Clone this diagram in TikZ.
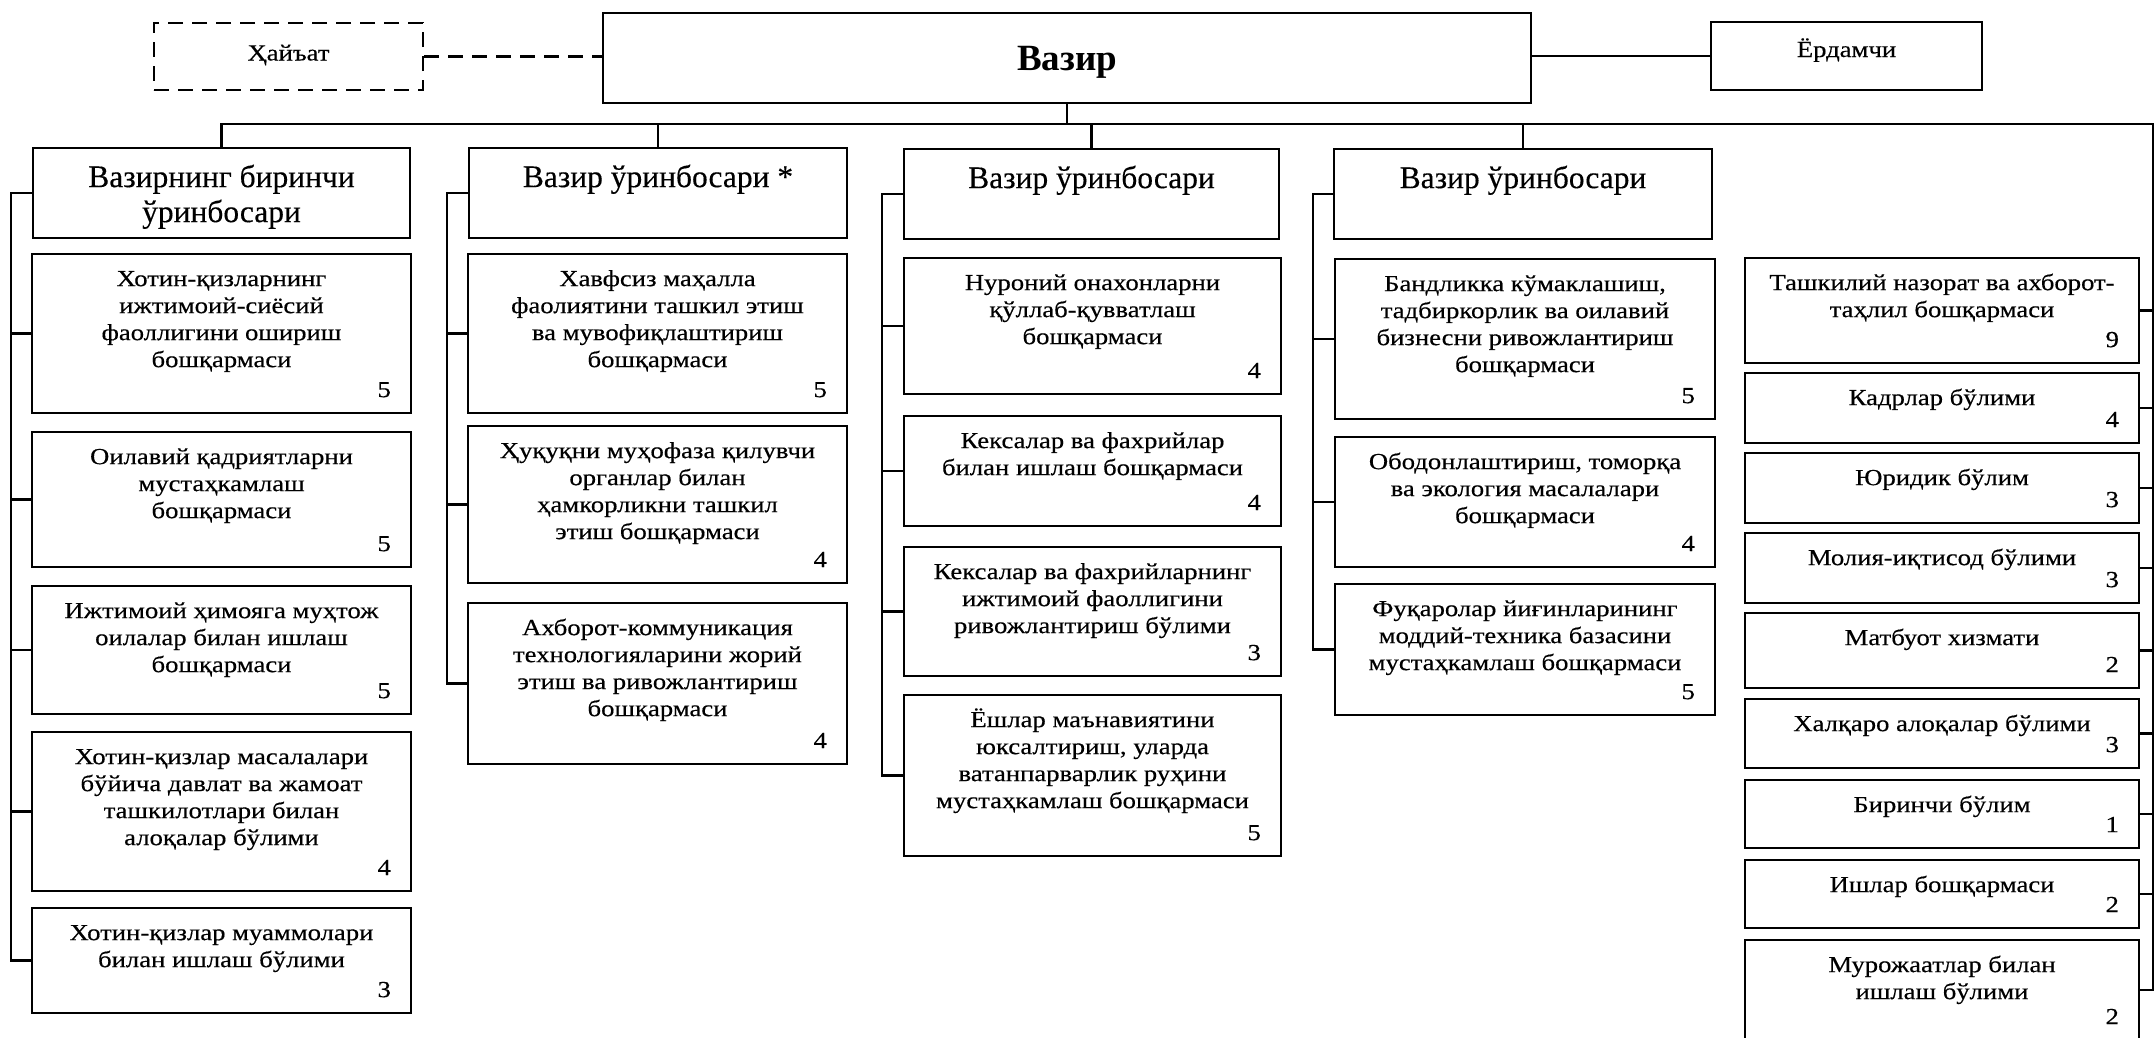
\documentclass[tikz,border=0pt]{standalone}
\usepackage{fontspec}
\setmainfont{Liberation Serif}
\newfontfamily\bodyfont[FakeStretch=1.16, FakeBold=0.4]{Liberation Serif}
\newfontfamily\depfont[FakeBold=0.3]{Liberation Serif}
\tikzset{
  ubx/.style={draw, line width=2.2pt, inner sep=0pt, fill=white},
  utxt/.style={inner sep=0pt, align=center, font=\bodyfont\fontsize{23}{27}\selectfont},
  unum/.style={inner sep=0pt, font=\bodyfont\fontsize{23}{27}\selectfont},
  dtxt/.style={inner sep=0pt, align=center, font=\depfont\fontsize{31.5}{35}\selectfont},
  link/.style={line width=2.2pt},
  dlink/.style={line width=2.2pt, dash pattern=on 15pt off 9pt},
}
\newcommand\ubox[7]{%
  \node[ubx, minimum width={(#4-#2)*1pt}, minimum height={(#5-#3)*1pt}] (#1) at ({(#2+#4)/2},{(#3+#5)/2}) {};
  \node[utxt, anchor=north] (#1t) at ([yshift=-12pt]#1.north) {\rule{0pt}{21pt}#6};
  \node[unum, anchor=base east] (#1n) at ([xshift=-21pt, yshift=17pt]#1.south east) {#7};
}
\newcommand\dbox[6]{%
  \node[ubx, minimum width={(#4-#2)*1pt}, minimum height={(#5-#3)*1pt}] (#1) at ({(#2+#4)/2},{(#3+#5)/2}) {};
  \node[dtxt, anchor=north] (#1t) at ([yshift=-12pt]#1.north) {\rule{0pt}{28pt}#6};
}
\begin{document}
\begin{tikzpicture}[x=1pt, y=-1pt]
\useasboundingbox (0,0) rectangle (2156,1037);

% top row
\node[ubx, dash pattern=on 15pt off 9pt, minimum width=269pt, minimum height=67pt] (hay) at (288.5,56.5) {};
\node[utxt, anchor=base] (hayt) at ([yshift=-4pt]hay.center) {Ҳайъат};
\node[ubx, minimum width=928pt, minimum height=90pt] (vazir) at (1067,58) {};
\node[inner sep=0pt, font=\bfseries\fontsize{37}{40}\selectfont, anchor=base] (vazirt) at ([yshift=-12pt]vazir.center) {Вазир};
\node[ubx, minimum width=271pt, minimum height=68pt] (yor) at (1846.5,56) {};
\node[utxt, anchor=base] (yort) at ([yshift=-1pt]yor.center) {Ёрдамчи};

% deputies
\dbox{d1}{33}{148}{410}{238}{Вазирнинг биринчи\\ўринбосари}
\dbox{d2}{469}{148}{847}{238}{Вазир ўринбосари *}
\dbox{d3}{904}{149}{1279}{239}{Вазир ўринбосари}
\dbox{d4}{1334}{149}{1712}{239}{Вазир ўринбосари}

% column 1
\ubox{c11}{32}{254}{411}{413}{Хотин-қизларнинг\\ижтимоий-сиёсий\\фаоллигини ошириш\\бошқармаси}{5}
\ubox{c12}{32}{432}{411}{567}{Оилавий қадриятларни\\мустаҳкамлаш\\бошқармаси}{5}
\ubox{c13}{32}{586}{411}{714}{Ижтимоий ҳимояга муҳтож\\оилалар билан ишлаш\\бошқармаси}{5}
\ubox{c14}{32}{732}{411}{891}{Хотин-қизлар масалалари\\бўйича давлат ва жамоат\\ташкилотлари билан\\алоқалар бўлими}{4}
\ubox{c15}{32}{908}{411}{1013}{Хотин-қизлар муаммолари\\билан ишлаш бўлими}{3}

% column 2
\ubox{c21}{468}{254}{847}{413}{Хавфсиз маҳалла\\фаолиятини ташкил этиш\\ва мувофиқлаштириш\\бошқармаси}{5}
\ubox{c22}{468}{426}{847}{583}{Ҳуқуқни муҳофаза қилувчи\\органлар билан\\ҳамкорликни ташкил\\этиш бошқармаси}{4}
\ubox{c23}{468}{603}{847}{764}{Ахборот-коммуникация\\технологияларини жорий\\этиш ва ривожлантириш\\бошқармаси}{4}

% column 3
\ubox{c31}{904}{258}{1281}{394}{Нуроний онахонларни\\қўллаб-қувватлаш\\бошқармаси}{4}
\ubox{c32}{904}{416}{1281}{526}{Кексалар ва фахрийлар\\билан ишлаш бошқармаси}{4}
\ubox{c33}{904}{547}{1281}{676}{Кексалар ва фахрийларнинг\\ижтимоий фаоллигини\\ривожлантириш бўлими}{3}
\ubox{c34}{904}{695}{1281}{856}{Ёшлар маънавиятини\\юксалтириш, уларда\\ватанпарварлик руҳини\\мустаҳкамлаш бошқармаси}{5}

% column 4
\ubox{c41}{1335}{259}{1715}{419}{Бандликка кўмаклашиш,\\тадбиркорлик ва оилавий\\бизнесни ривожлантириш\\бошқармаси}{5}
\ubox{c42}{1335}{437}{1715}{567}{Ободонлаштириш, томорқа\\ва экология масалалари\\бошқармаси}{4}
\ubox{c43}{1335}{584}{1715}{715}{Фуқаролар йиғинларининг\\моддий-техника базасини\\мустаҳкамлаш бошқармаси}{5}

% right column
\ubox{r1}{1745}{258}{2139}{363}{Ташкилий назорат ва ахборот-\\таҳлил бошқармаси}{9}
\ubox{r2}{1745}{373}{2139}{443}{Кадрлар бўлими}{4}
\ubox{r3}{1745}{453}{2139}{523}{Юридик бўлим}{3}
\ubox{r4}{1745}{533}{2139}{603}{Молия-иқтисод бўлими}{3}
\ubox{r5}{1745}{613}{2139}{688}{Матбуот хизмати}{2}
\ubox{r6}{1745}{699}{2139}{768}{Халқаро алоқалар бўлими}{3}
\ubox{r7}{1745}{780}{2139}{848}{Биринчи бўлим}{1}
\ubox{r8}{1745}{860}{2139}{928}{Ишлар бошқармаси}{2}
\ubox{r9}{1745}{940}{2139}{1040}{Мурожаатлар билан\\ишлаш бўлими}{2}

% connectors
\coordinate (busL) at (222,124);
\coordinate (busR) at (2153,124);
\coordinate (s1) at (11,0);
\coordinate (s2) at (447,0);
\coordinate (s3) at (882,0);
\coordinate (s4) at (1313,0);

\draw[dlink] (hay.east) -- (hay.east -| vazir.west);
\draw[link] (yor.west -| vazir.east) -- (yor.west);
\draw[link] (vazir.south) -- (vazir.south |- busL);
\draw[link] (d1.north) -- (d1.north |- busL) -- (busR) -- (busR |- r9.east) -- (r9.east);
\draw[link] (d2.north) -- (d2.north |- busL);
\draw[link] (d3.north) -- (d3.north |- busL);
\draw[link] (d4.north) -- (d4.north |- busL);

\draw[link] (d1.west) -- (d1.west -| s1) -- (s1 |- c15.west) -- (c15.west);
\foreach \b in {c11,c12,c13,c14} \draw[link] (\b.west) -- (\b.west -| s1);
\draw[link] (d2.west) -- (d2.west -| s2) -- (s2 |- c23.west) -- (c23.west);
\foreach \b in {c21,c22} \draw[link] (\b.west) -- (\b.west -| s2);
\draw[link] (d3.west) -- (d3.west -| s3) -- (s3 |- c34.west) -- (c34.west);
\foreach \b in {c31,c32,c33} \draw[link] (\b.west) -- (\b.west -| s3);
\draw[link] (d4.west) -- (d4.west -| s4) -- (s4 |- c43.west) -- (c43.west);
\foreach \b in {c41,c42} \draw[link] (\b.west) -- (\b.west -| s4);
\foreach \b in {r1,r2,r3,r4,r5,r6,r7,r8} \draw[link] (\b.east) -- (\b.east -| busR);
\end{tikzpicture}
\end{document}
